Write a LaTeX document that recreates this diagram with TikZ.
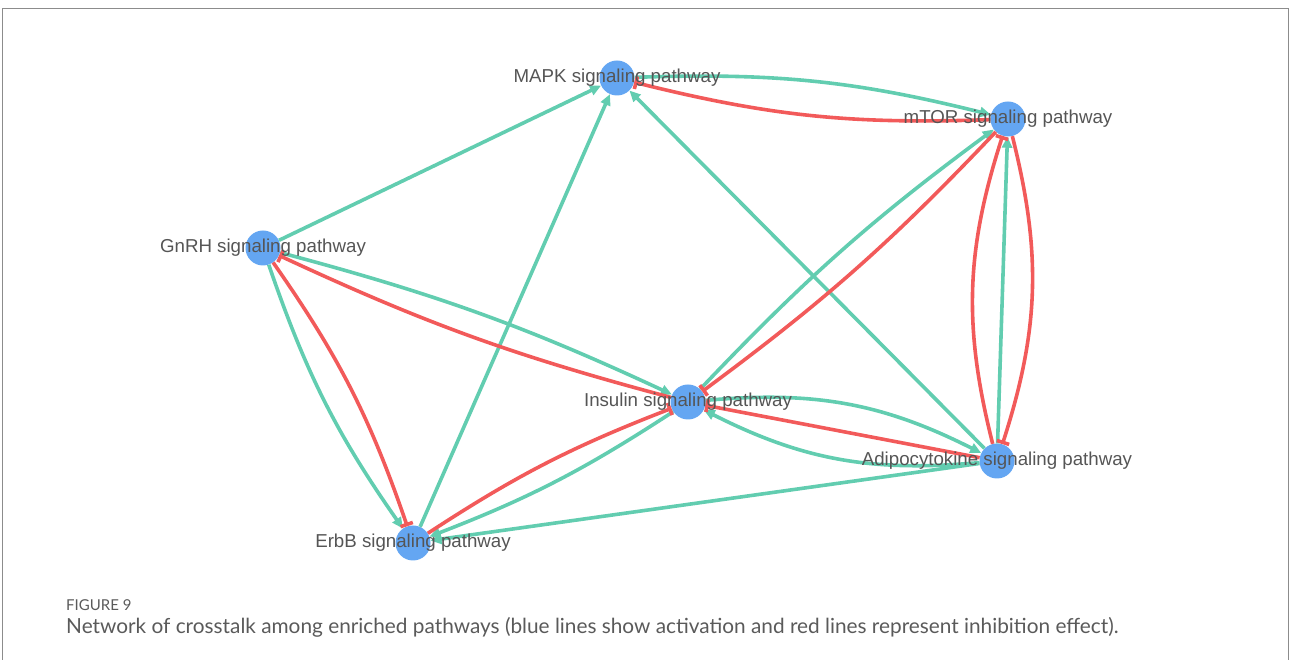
\documentclass[tikz,border=0pt]{standalone}
\usepackage{fontspec}
\setmainfont{Liberation Sans}
\newfontfamily\capfont{Lato}
\usetikzlibrary{arrows.meta}

\definecolor{actgreen}{HTML}{62CDB0}
\definecolor{inhred}{HTML}{F25A5A}
\definecolor{nodeblue}{HTML}{64A6F2}
\definecolor{labgray}{HTML}{555555}
\definecolor{capgray}{HTML}{5A5A5A}
\definecolor{framegray}{HTML}{8C8C8C}

\begin{document}
\begin{tikzpicture}[
  x=1pt, y=1pt,
  pw/.style={circle, fill=nodeblue, minimum size=35pt, inner sep=0pt},
  lab/.style={font=\fontsize{18.7}{20}\selectfont, text=labgray, inner sep=0pt},
  act/.style={-{Triangle[length=11pt,width=10pt]}, actgreen, line width=3.6pt},
  inh/.style={-{Bar[width=13pt]}, inhred, line width=3.6pt},
  captext/.style={anchor=base west, inner sep=0pt, text=capgray}
]
\useasboundingbox (0,0) rectangle (1290,660);
\draw[framegray, line width=1pt] (2,-5) -- (2,651) -- (1288,651) -- (1288,-5);

% pathways
\node[pw] (mapk) at (617,582) {};
\node[pw] (mtor) at (1008,541) {};
\node[pw] (gnrh) at (263,412) {};
\node[pw] (ins) at (688,258) {};
\node[pw] (adipo) at (997,199) {};
\node[pw] (erbb) at (413,117) {};

% activation and inhibition
\draw[act] (gnrh) -- (mapk);
\draw[act] (erbb) -- (mapk);
\draw[act] (adipo) -- (mapk);
\draw[act] (mapk) to[bend left=8] (mtor);
\draw[inh] (mtor) to[bend left=8] (mapk);
\draw[act] (gnrh) to[bend left=5] (ins);
\draw[inh] (ins) to[bend left=5] (gnrh);
\draw[act] (gnrh) to[bend right=8] (erbb);
\draw[inh] (gnrh) to[bend left=8] (erbb);
\draw[act] (ins) to[bend left=6] (erbb);
\draw[inh] (erbb) to[bend left=6] (ins);
\draw[act] (ins) to[bend left=5] (mtor);
\draw[inh] (mtor) to[bend left=5] (ins);
\draw[act] (adipo) -- (mtor);
\draw[inh] (adipo) to[bend left=16] (mtor);
\draw[inh] (mtor) to[bend left=16] (adipo);
\draw[act] (ins) to[bend left=16] (adipo);
\draw[act] (adipo) to[bend left=16] (ins);
\draw[inh] (adipo) -- (ins);
\draw[act] (adipo) -- (erbb);

% labels on top
\node[lab] (mapk-l) at (mapk) {MAPK signaling pathway};
\node[lab] (mtor-l) at (mtor) {mTOR signaling pathway};
\node[lab] (gnrh-l) at (gnrh) {GnRH signaling pathway};
\node[lab] (ins-l) at (ins) {Insulin signaling pathway};
\node[lab] (adipo-l) at (adipo) {Adipocytokine signaling pathway};
\node[lab] (erbb-l) at (erbb) {ErbB signaling pathway};

% caption
\node[captext, font=\capfont\fontsize{15}{16}\selectfont] (fig) at (66,49) {FIGURE 9};
\node[captext, font=\capfont\fontsize{20.8}{22}\selectfont] (capt) at (66,26)
  {Network of crosstalk among enriched pathways (blue lines show activation and red lines represent inhibition effect).};
\end{tikzpicture}
\end{document}
